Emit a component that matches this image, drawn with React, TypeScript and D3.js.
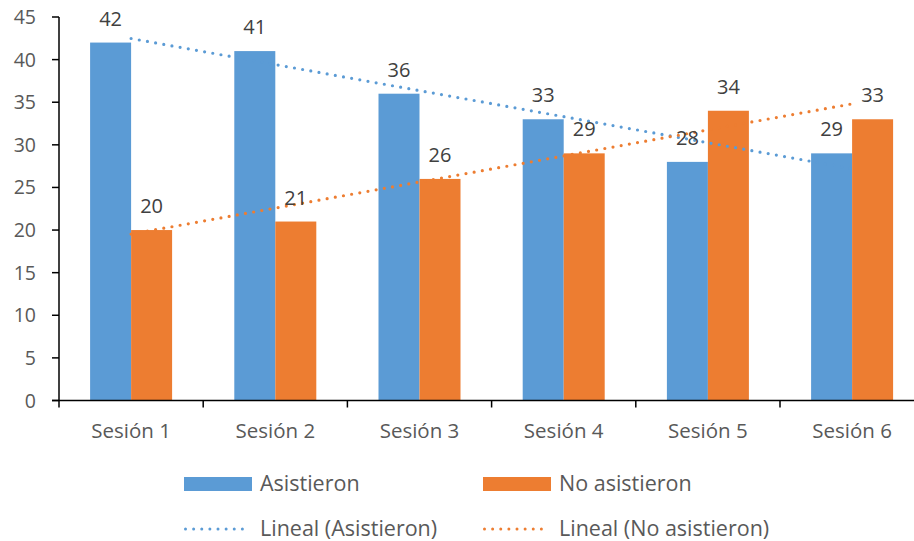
import React from "react";
import * as d3 from "d3";

const categories = ["Sesión 1", "Sesión 2", "Sesión 3", "Sesión 4", "Sesión 5", "Sesión 6"];
const asistieron = [42, 41, 36, 33, 28, 29];
const noAsistieron = [20, 21, 26, 29, 34, 33];
const yTicks = [0, 5, 10, 15, 20, 25, 30, 35, 40, 45];
const seriesNames = ["Asistieron", "No asistieron"];

const BLUE = "#5B9BD5";
const ORANGE = "#ED7D31";
const FONT = "'Open Sans', sans-serif";

function linReg(vals: number[]) {
  const xs = vals.map((_, i) => i + 1);
  const mx = d3.mean(xs)!;
  const my = d3.mean(vals)!;
  let num = 0, den = 0;
  xs.forEach((x, i) => { num += (x - mx) * (vals[i] - my); den += (x - mx) ** 2; });
  const b = num / den;
  const a = my - b * mx;
  return xs.map((x) => a + b * x);
}

export default function App() {
  const W = 914, H = 541;
  const x0 = 59, y0 = 400.5;
  const band = 144.2;
  const x = d3.scaleBand<string>().domain(categories).range([x0, x0 + band * 6]).paddingInner(0).paddingOuter(0);
  const y = d3.scaleLinear().domain([0, 45]).range([y0, 17]);
  const barW = 41;
  const groupOff = (band - 2 * barW) / 2;

  const trendA = linReg(asistieron);
  const trendN = linReg(noAsistieron);
  const line = d3.line<number>().x((_, i) => x(categories[i])! + band / 2).y((v) => y(v));

  const series = [
    { name: seriesNames[0], vals: asistieron, color: BLUE, trend: trendA },
    { name: seriesNames[1], vals: noAsistieron, color: ORANGE, trend: trendN },
  ];

  return (
    <svg width={W} height={H} style={{ position: "absolute", left: 0, top: 0, background: "#fff" }} fontFamily={FONT}>
      {/* bars */}
      {series.map((s, si) =>
        s.vals.map((v, i) => (
          <rect key={`${si}-${i}`} x={x(categories[i])! + groupOff + si * barW} y={y(v)} width={barW} height={y0 - y(v)}
            fill={s.color} />
        ))
      )}
      {/* trend lines */}
      {series.map((s, si) => (
        <path key={`t${si}`} d={line(s.trend)!} fill="none" stroke={s.color} strokeWidth={3.2}
          strokeLinecap="round" strokeDasharray="0 8.3" />
      ))}
      {/* value labels */}
      {series.map((s, si) =>
        s.vals.map((v, i) => (
          <text key={`l${si}-${i}`} x={x(categories[i])! + groupOff + si * barW + barW / 2} y={y(v) - 17}
            textAnchor="middle" fontSize={20} fill="#404040">{v}</text>
        ))
      )}
      {/* y axis */}
      <line x1={x0} x2={x0} y1={17} y2={y0} stroke="#000" strokeWidth={1.5} />
      {yTicks.map((t) => (
        <g key={t}>
          <line x1={x0 - 7} x2={x0} y1={y(t)} y2={y(t)} stroke="#000" strokeWidth={1.5} />
          <text x={36} y={y(t) + 7} textAnchor="end" fontSize={19.5} fill="#595959">{t}</text>
        </g>
      ))}
      {/* x axis */}
      <line x1={x0 - 7} x2={W} y1={y0} y2={y0} stroke="#000" strokeWidth={1.5} />
      {d3.range(7).map((i) => (
        <line key={i} x1={x0 + i * band} x2={x0 + i * band} y1={y0} y2={y0 + 7} stroke="#000" strokeWidth={1.5} />
      ))}
      {categories.map((c) => (
        <text key={c} x={x(c)! + band / 2} y={438} textAnchor="middle" fontSize={20.5} fill="#595959">{c}</text>
      ))}
      {/* legend */}
      {series.map((s, si) => {
        const lx = si === 0 ? 184 : 483;
        return (
          <g key={`lg${si}`}>
            <rect x={lx} y={477} width={68} height={14} fill={s.color} />
            <text x={lx + 76} y={491} fontSize={21.5} fill="#595959">{s.name}</text>
            <line x1={lx + 1.5} x2={lx + 66.5} y1={529} y2={529} stroke={s.color} strokeWidth={3}
              strokeLinecap="round" strokeDasharray="0 8.125" />
            <text x={lx + 76} y={536} fontSize={21.5} fill="#595959">{`Lineal (${s.name})`}</text>
          </g>
        );
      })}
    </svg>
  );
}
